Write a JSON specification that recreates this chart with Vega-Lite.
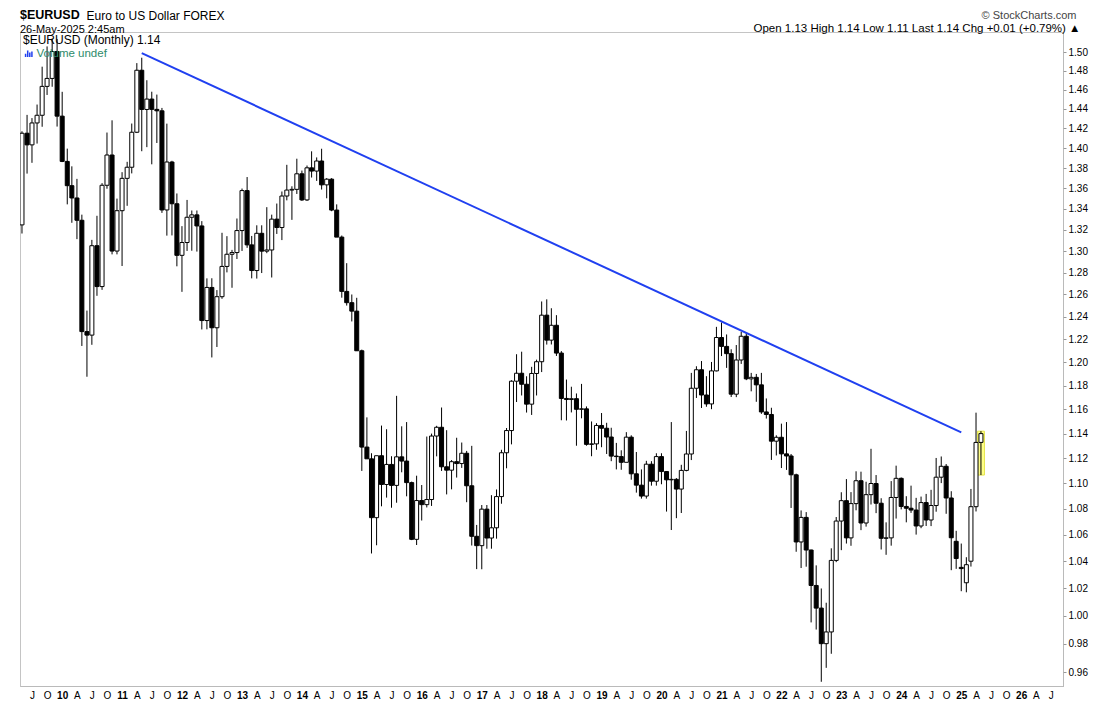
{
  "$schema": "https://vega.github.io/schema/vega-lite/v6.json",
  "width": 1043,
  "height": 654,
  "autosize": {"type": "none"},
  "padding": {"left": 20, "top": 32, "right": 45, "bottom": 22},
  "background": "white",
  "config": {
    "font": "Liberation Sans",
    "view": {"stroke": "#c4c4c4", "strokeWidth": 1},
    "axis": {"grid": false}
  },
  "title": {
    "text": "$EURUSD",
    "subtitle": "26-May-2025 2:45am",
    "anchor": "start",
    "frame": "group",
    "font": "Liberation Sans",
    "fontSize": 12.5,
    "fontWeight": "bold",
    "color": "#000000",
    "subtitleFont": "Liberation Sans",
    "subtitleFontSize": 11,
    "subtitleColor": "#000000",
    "subtitlePadding": 3,
    "offset": -26
  },
  "data": {
    "format": {"parse": {"d": "date"}},
    "values": [
      {"d": "2009-05-01", "o": 1.3247, "h": 1.4170, "l": 1.3165, "c": 1.4150},
      {"d": "2009-06-01", "o": 1.4150, "h": 1.4338, "l": 1.3745, "c": 1.4032},
      {"d": "2009-07-01", "o": 1.4032, "h": 1.4305, "l": 1.3852, "c": 1.4255},
      {"d": "2009-08-01", "o": 1.4255, "h": 1.4445, "l": 1.4045, "c": 1.4334},
      {"d": "2009-09-01", "o": 1.4334, "h": 1.4844, "l": 1.4216, "c": 1.4635},
      {"d": "2009-10-01", "o": 1.4635, "h": 1.5062, "l": 1.4545, "c": 1.4719},
      {"d": "2009-11-01", "o": 1.4719, "h": 1.5144, "l": 1.4631, "c": 1.5007},
      {"d": "2009-12-01", "o": 1.5007, "h": 1.5143, "l": 1.4218, "c": 1.4325},
      {"d": "2010-01-01", "o": 1.4325, "h": 1.4578, "l": 1.3859, "c": 1.3866},
      {"d": "2010-02-01", "o": 1.3866, "h": 1.3994, "l": 1.3444, "c": 1.3626},
      {"d": "2010-03-01", "o": 1.3626, "h": 1.3817, "l": 1.3267, "c": 1.3506},
      {"d": "2010-04-01", "o": 1.3506, "h": 1.3693, "l": 1.3112, "c": 1.3291},
      {"d": "2010-05-01", "o": 1.3291, "h": 1.3345, "l": 1.2142, "c": 1.2268},
      {"d": "2010-06-01", "o": 1.2268, "h": 1.2455, "l": 1.1876, "c": 1.2237},
      {"d": "2010-07-01", "o": 1.2237, "h": 1.3105, "l": 1.2152, "c": 1.3050},
      {"d": "2010-08-01", "o": 1.3050, "h": 1.3334, "l": 1.2588, "c": 1.2672},
      {"d": "2010-09-01", "o": 1.2672, "h": 1.3651, "l": 1.2642, "c": 1.3630},
      {"d": "2010-10-01", "o": 1.3630, "h": 1.4157, "l": 1.3596, "c": 1.3930},
      {"d": "2010-11-01", "o": 1.3930, "h": 1.4282, "l": 1.2969, "c": 1.3000},
      {"d": "2010-12-01", "o": 1.3000, "h": 1.3500, "l": 1.2969, "c": 1.3383},
      {"d": "2011-01-01", "o": 1.3383, "h": 1.3759, "l": 1.2861, "c": 1.3698},
      {"d": "2011-02-01", "o": 1.3698, "h": 1.3862, "l": 1.3430, "c": 1.3808},
      {"d": "2011-03-01", "o": 1.3808, "h": 1.4249, "l": 1.3747, "c": 1.4160},
      {"d": "2011-04-01", "o": 1.4160, "h": 1.4882, "l": 1.4152, "c": 1.4806},
      {"d": "2011-05-01", "o": 1.4806, "h": 1.4940, "l": 1.3968, "c": 1.4394},
      {"d": "2011-06-01", "o": 1.4394, "h": 1.4700, "l": 1.4009, "c": 1.4502},
      {"d": "2011-07-01", "o": 1.4502, "h": 1.4579, "l": 1.3837, "c": 1.4395},
      {"d": "2011-08-01", "o": 1.4395, "h": 1.4549, "l": 1.4051, "c": 1.4380},
      {"d": "2011-09-01", "o": 1.4380, "h": 1.4410, "l": 1.3362, "c": 1.3390},
      {"d": "2011-10-01", "o": 1.3390, "h": 1.4248, "l": 1.3145, "c": 1.3860},
      {"d": "2011-11-01", "o": 1.3860, "h": 1.3872, "l": 1.3147, "c": 1.3450},
      {"d": "2011-12-01", "o": 1.3450, "h": 1.3550, "l": 1.2858, "c": 1.2960},
      {"d": "2012-01-01", "o": 1.2960, "h": 1.3235, "l": 1.2624, "c": 1.3080},
      {"d": "2012-02-01", "o": 1.3080, "h": 1.3487, "l": 1.3001, "c": 1.3320},
      {"d": "2012-03-01", "o": 1.3320, "h": 1.3385, "l": 1.3003, "c": 1.3343},
      {"d": "2012-04-01", "o": 1.3343, "h": 1.3385, "l": 1.2995, "c": 1.3237},
      {"d": "2012-05-01", "o": 1.3237, "h": 1.3283, "l": 1.2287, "c": 1.2366},
      {"d": "2012-06-01", "o": 1.2366, "h": 1.2747, "l": 1.2288, "c": 1.2664},
      {"d": "2012-07-01", "o": 1.2664, "h": 1.2748, "l": 1.2042, "c": 1.2302},
      {"d": "2012-08-01", "o": 1.2302, "h": 1.2640, "l": 1.2133, "c": 1.2580},
      {"d": "2012-09-01", "o": 1.2580, "h": 1.3172, "l": 1.2561, "c": 1.2857},
      {"d": "2012-10-01", "o": 1.2857, "h": 1.3140, "l": 1.2802, "c": 1.2970},
      {"d": "2012-11-01", "o": 1.2970, "h": 1.3011, "l": 1.2661, "c": 1.2986},
      {"d": "2012-12-01", "o": 1.2986, "h": 1.3308, "l": 1.2926, "c": 1.3193},
      {"d": "2013-01-01", "o": 1.3193, "h": 1.3598, "l": 1.3001, "c": 1.3578},
      {"d": "2013-02-01", "o": 1.3578, "h": 1.3711, "l": 1.3030, "c": 1.3058},
      {"d": "2013-03-01", "o": 1.3058, "h": 1.3142, "l": 1.2747, "c": 1.2819},
      {"d": "2013-04-01", "o": 1.2819, "h": 1.3243, "l": 1.2745, "c": 1.3167},
      {"d": "2013-05-01", "o": 1.3167, "h": 1.3243, "l": 1.2796, "c": 1.2999},
      {"d": "2013-06-01", "o": 1.2999, "h": 1.3417, "l": 1.2980, "c": 1.3010},
      {"d": "2013-07-01", "o": 1.3010, "h": 1.3345, "l": 1.2755, "c": 1.3302},
      {"d": "2013-08-01", "o": 1.3302, "h": 1.3452, "l": 1.3161, "c": 1.3222},
      {"d": "2013-09-01", "o": 1.3222, "h": 1.3569, "l": 1.3103, "c": 1.3525},
      {"d": "2013-10-01", "o": 1.3525, "h": 1.3832, "l": 1.3483, "c": 1.3583},
      {"d": "2013-11-01", "o": 1.3583, "h": 1.3620, "l": 1.3295, "c": 1.3590},
      {"d": "2013-12-01", "o": 1.3590, "h": 1.3893, "l": 1.3545, "c": 1.3743},
      {"d": "2014-01-01", "o": 1.3743, "h": 1.3775, "l": 1.3477, "c": 1.3487},
      {"d": "2014-02-01", "o": 1.3487, "h": 1.3825, "l": 1.3477, "c": 1.3802},
      {"d": "2014-03-01", "o": 1.3802, "h": 1.3967, "l": 1.3706, "c": 1.3770},
      {"d": "2014-04-01", "o": 1.3770, "h": 1.3906, "l": 1.3673, "c": 1.3870},
      {"d": "2014-05-01", "o": 1.3870, "h": 1.3993, "l": 1.3588, "c": 1.3634},
      {"d": "2014-06-01", "o": 1.3634, "h": 1.3700, "l": 1.3503, "c": 1.3690},
      {"d": "2014-07-01", "o": 1.3690, "h": 1.3700, "l": 1.3378, "c": 1.3389},
      {"d": "2014-08-01", "o": 1.3389, "h": 1.3444, "l": 1.3133, "c": 1.3131},
      {"d": "2014-09-01", "o": 1.3131, "h": 1.3146, "l": 1.2571, "c": 1.2628},
      {"d": "2014-10-01", "o": 1.2628, "h": 1.2887, "l": 1.2500, "c": 1.2526},
      {"d": "2014-11-01", "o": 1.2526, "h": 1.2600, "l": 1.2358, "c": 1.2450},
      {"d": "2014-12-01", "o": 1.2450, "h": 1.2570, "l": 1.2100, "c": 1.2100},
      {"d": "2015-01-01", "o": 1.2100, "h": 1.2110, "l": 1.1098, "c": 1.1290},
      {"d": "2015-02-01", "o": 1.1290, "h": 1.1534, "l": 1.1261, "c": 1.1195},
      {"d": "2015-03-01", "o": 1.1195, "h": 1.1240, "l": 1.0458, "c": 1.0731},
      {"d": "2015-04-01", "o": 1.0731, "h": 1.1215, "l": 1.0520, "c": 1.1220},
      {"d": "2015-05-01", "o": 1.1220, "h": 1.1466, "l": 1.0819, "c": 1.0990},
      {"d": "2015-06-01", "o": 1.0990, "h": 1.1436, "l": 1.0887, "c": 1.1150},
      {"d": "2015-07-01", "o": 1.1150, "h": 1.1216, "l": 1.0808, "c": 1.0983},
      {"d": "2015-08-01", "o": 1.0983, "h": 1.1714, "l": 1.0847, "c": 1.1211},
      {"d": "2015-09-01", "o": 1.1211, "h": 1.1460, "l": 1.1087, "c": 1.1177},
      {"d": "2015-10-01", "o": 1.1177, "h": 1.1495, "l": 1.0897, "c": 1.1005},
      {"d": "2015-11-01", "o": 1.1005, "h": 1.1013, "l": 1.0559, "c": 1.0565},
      {"d": "2015-12-01", "o": 1.0565, "h": 1.1060, "l": 1.0522, "c": 1.0864},
      {"d": "2016-01-01", "o": 1.0864, "h": 1.0986, "l": 1.0709, "c": 1.0832},
      {"d": "2016-02-01", "o": 1.0832, "h": 1.1376, "l": 1.0810, "c": 1.0872},
      {"d": "2016-03-01", "o": 1.0872, "h": 1.1400, "l": 1.0822, "c": 1.1380},
      {"d": "2016-04-01", "o": 1.1380, "h": 1.1464, "l": 1.1215, "c": 1.1452},
      {"d": "2016-05-01", "o": 1.1452, "h": 1.1616, "l": 1.1098, "c": 1.1131},
      {"d": "2016-06-01", "o": 1.1131, "h": 1.1428, "l": 1.0912, "c": 1.1104},
      {"d": "2016-07-01", "o": 1.1104, "h": 1.1185, "l": 1.0952, "c": 1.1172},
      {"d": "2016-08-01", "o": 1.1172, "h": 1.1366, "l": 1.1045, "c": 1.1157},
      {"d": "2016-09-01", "o": 1.1157, "h": 1.1327, "l": 1.1122, "c": 1.1240},
      {"d": "2016-10-01", "o": 1.1240, "h": 1.1259, "l": 1.0851, "c": 1.0980},
      {"d": "2016-11-01", "o": 1.0980, "h": 1.1300, "l": 1.0518, "c": 1.0588},
      {"d": "2016-12-01", "o": 1.0588, "h": 1.0675, "l": 1.0341, "c": 1.0517},
      {"d": "2017-01-01", "o": 1.0517, "h": 1.0829, "l": 1.0340, "c": 1.0797},
      {"d": "2017-02-01", "o": 1.0797, "h": 1.0829, "l": 1.0494, "c": 1.0575},
      {"d": "2017-03-01", "o": 1.0575, "h": 1.0906, "l": 1.0494, "c": 1.0653},
      {"d": "2017-04-01", "o": 1.0653, "h": 1.0951, "l": 1.0570, "c": 1.0895},
      {"d": "2017-05-01", "o": 1.0895, "h": 1.1268, "l": 1.0839, "c": 1.1244},
      {"d": "2017-06-01", "o": 1.1244, "h": 1.1446, "l": 1.1119, "c": 1.1425},
      {"d": "2017-07-01", "o": 1.1425, "h": 1.1846, "l": 1.1312, "c": 1.1838},
      {"d": "2017-08-01", "o": 1.1838, "h": 1.2070, "l": 1.1662, "c": 1.1906},
      {"d": "2017-09-01", "o": 1.1906, "h": 1.2092, "l": 1.1717, "c": 1.1812},
      {"d": "2017-10-01", "o": 1.1812, "h": 1.1880, "l": 1.1574, "c": 1.1644},
      {"d": "2017-11-01", "o": 1.1644, "h": 1.1961, "l": 1.1554, "c": 1.1904},
      {"d": "2017-12-01", "o": 1.1904, "h": 1.2023, "l": 1.1717, "c": 1.2005},
      {"d": "2018-01-01", "o": 1.2005, "h": 1.2537, "l": 1.1916, "c": 1.2414},
      {"d": "2018-02-01", "o": 1.2414, "h": 1.2556, "l": 1.2154, "c": 1.2193},
      {"d": "2018-03-01", "o": 1.2193, "h": 1.2476, "l": 1.2155, "c": 1.2324},
      {"d": "2018-04-01", "o": 1.2324, "h": 1.2414, "l": 1.2055, "c": 1.2080},
      {"d": "2018-05-01", "o": 1.2080, "h": 1.2097, "l": 1.1510, "c": 1.1692},
      {"d": "2018-06-01", "o": 1.1692, "h": 1.1852, "l": 1.1508, "c": 1.1683},
      {"d": "2018-07-01", "o": 1.1683, "h": 1.1791, "l": 1.1575, "c": 1.1690},
      {"d": "2018-08-01", "o": 1.1690, "h": 1.1734, "l": 1.1301, "c": 1.1601},
      {"d": "2018-09-01", "o": 1.1601, "h": 1.1815, "l": 1.1526, "c": 1.1605},
      {"d": "2018-10-01", "o": 1.1605, "h": 1.1625, "l": 1.1301, "c": 1.1312},
      {"d": "2018-11-01", "o": 1.1312, "h": 1.1500, "l": 1.1216, "c": 1.1316},
      {"d": "2018-12-01", "o": 1.1316, "h": 1.1486, "l": 1.1268, "c": 1.1467},
      {"d": "2019-01-01", "o": 1.1467, "h": 1.1570, "l": 1.1289, "c": 1.1444},
      {"d": "2019-02-01", "o": 1.1444, "h": 1.1489, "l": 1.1234, "c": 1.1372},
      {"d": "2019-03-01", "o": 1.1372, "h": 1.1448, "l": 1.1176, "c": 1.1217},
      {"d": "2019-04-01", "o": 1.1217, "h": 1.1324, "l": 1.1110, "c": 1.1213},
      {"d": "2019-05-01", "o": 1.1213, "h": 1.1264, "l": 1.1107, "c": 1.1167},
      {"d": "2019-06-01", "o": 1.1167, "h": 1.1412, "l": 1.1180, "c": 1.1371},
      {"d": "2019-07-01", "o": 1.1371, "h": 1.1386, "l": 1.1028, "c": 1.1075},
      {"d": "2019-08-01", "o": 1.1075, "h": 1.1250, "l": 1.0926, "c": 1.0985},
      {"d": "2019-09-01", "o": 1.0985, "h": 1.1110, "l": 1.0879, "c": 1.0899},
      {"d": "2019-10-01", "o": 1.0899, "h": 1.1179, "l": 1.0879, "c": 1.1152},
      {"d": "2019-11-01", "o": 1.1152, "h": 1.1176, "l": 1.0981, "c": 1.1016},
      {"d": "2019-12-01", "o": 1.1016, "h": 1.1240, "l": 1.0981, "c": 1.1213},
      {"d": "2020-01-01", "o": 1.1213, "h": 1.1240, "l": 1.0992, "c": 1.1093},
      {"d": "2020-02-01", "o": 1.1093, "h": 1.1096, "l": 1.0778, "c": 1.1027},
      {"d": "2020-03-01", "o": 1.1027, "h": 1.1495, "l": 1.0636, "c": 1.1031},
      {"d": "2020-04-01", "o": 1.1031, "h": 1.1041, "l": 1.0727, "c": 1.0954},
      {"d": "2020-05-01", "o": 1.0954, "h": 1.1147, "l": 1.0767, "c": 1.1102},
      {"d": "2020-06-01", "o": 1.1102, "h": 1.1422, "l": 1.1095, "c": 1.1234},
      {"d": "2020-07-01", "o": 1.1234, "h": 1.1909, "l": 1.1185, "c": 1.1778},
      {"d": "2020-08-01", "o": 1.1778, "h": 1.1966, "l": 1.1696, "c": 1.1936},
      {"d": "2020-09-01", "o": 1.1936, "h": 1.2011, "l": 1.1612, "c": 1.1721},
      {"d": "2020-10-01", "o": 1.1721, "h": 1.1881, "l": 1.1622, "c": 1.1646},
      {"d": "2020-11-01", "o": 1.1646, "h": 1.2003, "l": 1.1602, "c": 1.1926},
      {"d": "2020-12-01", "o": 1.1926, "h": 1.2310, "l": 1.1922, "c": 1.2216},
      {"d": "2021-01-01", "o": 1.2216, "h": 1.2349, "l": 1.2054, "c": 1.2138},
      {"d": "2021-02-01", "o": 1.2138, "h": 1.2243, "l": 1.1952, "c": 1.2075},
      {"d": "2021-03-01", "o": 1.2075, "h": 1.2113, "l": 1.1704, "c": 1.1728},
      {"d": "2021-04-01", "o": 1.1728, "h": 1.2150, "l": 1.1703, "c": 1.2020},
      {"d": "2021-05-01", "o": 1.2020, "h": 1.2266, "l": 1.1986, "c": 1.2227},
      {"d": "2021-06-01", "o": 1.2227, "h": 1.2254, "l": 1.1847, "c": 1.1858},
      {"d": "2021-07-01", "o": 1.1858, "h": 1.1909, "l": 1.1752, "c": 1.1871},
      {"d": "2021-08-01", "o": 1.1871, "h": 1.1900, "l": 1.1664, "c": 1.1807},
      {"d": "2021-09-01", "o": 1.1807, "h": 1.1909, "l": 1.1563, "c": 1.1579},
      {"d": "2021-10-01", "o": 1.1579, "h": 1.1692, "l": 1.1524, "c": 1.1558},
      {"d": "2021-11-01", "o": 1.1558, "h": 1.1614, "l": 1.1186, "c": 1.1338},
      {"d": "2021-12-01", "o": 1.1338, "h": 1.1386, "l": 1.1222, "c": 1.1370},
      {"d": "2022-01-01", "o": 1.1370, "h": 1.1482, "l": 1.1121, "c": 1.1235},
      {"d": "2022-02-01", "o": 1.1235, "h": 1.1495, "l": 1.1106, "c": 1.1218},
      {"d": "2022-03-01", "o": 1.1218, "h": 1.1234, "l": 1.0806, "c": 1.1067},
      {"d": "2022-04-01", "o": 1.1067, "h": 1.1076, "l": 1.0471, "c": 1.0545},
      {"d": "2022-05-01", "o": 1.0545, "h": 1.0787, "l": 1.0349, "c": 1.0733},
      {"d": "2022-06-01", "o": 1.0733, "h": 1.0774, "l": 1.0359, "c": 1.0484},
      {"d": "2022-07-01", "o": 1.0484, "h": 1.0487, "l": 0.9952, "c": 1.0220},
      {"d": "2022-08-01", "o": 1.0220, "h": 1.0369, "l": 0.9901, "c": 1.0055},
      {"d": "2022-09-01", "o": 1.0055, "h": 1.0198, "l": 0.9536, "c": 0.9801},
      {"d": "2022-10-01", "o": 0.9801, "h": 1.0094, "l": 0.9632, "c": 0.9884},
      {"d": "2022-11-01", "o": 0.9884, "h": 1.0497, "l": 0.9730, "c": 1.0406},
      {"d": "2022-12-01", "o": 1.0406, "h": 1.0736, "l": 1.0393, "c": 1.0705},
      {"d": "2023-01-01", "o": 1.0705, "h": 1.0929, "l": 1.0483, "c": 1.0863},
      {"d": "2023-02-01", "o": 1.0863, "h": 1.1033, "l": 1.0533, "c": 1.0576},
      {"d": "2023-03-01", "o": 1.0576, "h": 1.0930, "l": 1.0516, "c": 1.0840},
      {"d": "2023-04-01", "o": 1.0840, "h": 1.1095, "l": 1.0788, "c": 1.1020},
      {"d": "2023-05-01", "o": 1.1020, "h": 1.1092, "l": 1.0635, "c": 1.0690},
      {"d": "2023-06-01", "o": 1.0690, "h": 1.1012, "l": 1.0662, "c": 1.0910},
      {"d": "2023-07-01", "o": 1.0910, "h": 1.1276, "l": 1.0833, "c": 1.0998},
      {"d": "2023-08-01", "o": 1.0998, "h": 1.1065, "l": 1.0766, "c": 1.0843},
      {"d": "2023-09-01", "o": 1.0843, "h": 1.0882, "l": 1.0488, "c": 1.0573},
      {"d": "2023-10-01", "o": 1.0573, "h": 1.0695, "l": 1.0448, "c": 1.0576},
      {"d": "2023-11-01", "o": 1.0576, "h": 1.1017, "l": 1.0517, "c": 1.0888},
      {"d": "2023-12-01", "o": 1.0888, "h": 1.1140, "l": 1.0724, "c": 1.1039},
      {"d": "2024-01-01", "o": 1.1039, "h": 1.1046, "l": 1.0795, "c": 1.0818},
      {"d": "2024-02-01", "o": 1.0818, "h": 1.0898, "l": 1.0695, "c": 1.0804},
      {"d": "2024-03-01", "o": 1.0804, "h": 1.0981, "l": 1.0768, "c": 1.0790},
      {"d": "2024-04-01", "o": 1.0790, "h": 1.0885, "l": 1.0601, "c": 1.0667},
      {"d": "2024-05-01", "o": 1.0667, "h": 1.0895, "l": 1.0650, "c": 1.0848},
      {"d": "2024-06-01", "o": 1.0848, "h": 1.0916, "l": 1.0667, "c": 1.0713},
      {"d": "2024-07-01", "o": 1.0713, "h": 1.0948, "l": 1.0666, "c": 1.0825},
      {"d": "2024-08-01", "o": 1.0825, "h": 1.1202, "l": 1.0777, "c": 1.1048},
      {"d": "2024-09-01", "o": 1.1048, "h": 1.1214, "l": 1.1001, "c": 1.1135},
      {"d": "2024-10-01", "o": 1.1135, "h": 1.1153, "l": 1.0761, "c": 1.0884},
      {"d": "2024-11-01", "o": 1.0884, "h": 1.0937, "l": 1.0333, "c": 1.0577},
      {"d": "2024-12-01", "o": 1.0550, "h": 1.0630, "l": 1.0343, "c": 1.0420},
      {"d": "2025-01-01", "o": 1.0354, "h": 1.0533, "l": 1.0178, "c": 1.0345},
      {"d": "2025-02-01", "o": 1.0240, "h": 1.0430, "l": 1.0170, "c": 1.0374},
      {"d": "2025-03-01", "o": 1.0400, "h": 1.0955, "l": 1.0360, "c": 1.0816},
      {"d": "2025-04-01", "o": 1.0816, "h": 1.1573, "l": 1.0779, "c": 1.1328},
      {"d": "2025-05-01", "o": 1.1328, "h": 1.1420, "l": 1.1065, "c": 1.1400}
    ]
  },
  "layer": [
    {
      "transform": [{"filter": "utcyear(datum.d) == 2025 && utcmonth(datum.d) == 4"}],
      "mark": {"type": "bar", "size": 7, "fill": "#ffff88", "stroke": "#e4e44c", "strokeWidth": 1, "clip": true},
      "encoding": {
        "x": {"field": "d", "type": "temporal", "axis": null,
              "scale": {"type": "utc", "padding": 0, "domain": [{"year": 2009, "month": 4, "date": 19, "utc": true}, {"year": 2026, "month": 9, "date": 13, "utc": true}]}},
        "y": {"field": "l", "type": "quantitative", "axis": null,
              "scale": {"type": "log", "domain": [0.9507, 1.5219], "nice": false, "zero": false}},
        "y2": {"field": "h"}
      }
    },
    {
      "mark": {"type": "rule", "color": "#000000", "strokeWidth": 1, "clip": true},
      "encoding": {
        "x": {"field": "d", "type": "temporal", "axis": null},
        "y": {"field": "l", "type": "quantitative", "axis": null},
        "y2": {"field": "h"}
      }
    },
    {
      "mark": {"type": "bar", "size": 4, "stroke": "#000000", "strokeWidth": 1, "clip": true},
      "encoding": {
        "x": {"field": "d", "type": "temporal",
              "scale": {"type": "utc", "padding": 0, "domain": [{"year": 2009, "month": 4, "date": 19, "utc": true}, {"year": 2026, "month": 9, "date": 13, "utc": true}]},
              "axis": {
                "orient": "bottom", "title": null,
                "tickCount": {"interval": "month", "step": 3},
                "labelExpr": "utcmonth(datum.value) == 0 ? utcFormat(datum.value, '%y') : utcmonth(datum.value) == 3 ? 'A' : utcmonth(datum.value) == 6 ? 'J' : 'O'",
                "labelFontWeight": {"condition": {"test": "utcmonth(datum.value) == 0", "value": "bold"}, "value": "normal"},
                "labelFontSize": 10, "labelColor": "#000000", "labelPadding": 4,
                "ticks": false, "domainColor": "#b0b0b0", "domainDash": [1, 1],
                "labelOverlap": false, "labelFlush": false
              }},
        "y": {"field": "o", "type": "quantitative",
              "axis": {
                "orient": "right",
                "title": "Open 1.13  High 1.14  Low 1.11  Last 1.14  Chg +0.01 (+0.79%) ▲",
                "titleAngle": 0, "titleX": 17, "titleY": -1, "titleAlign": "right", "titleBaseline": "alphabetic",
                "titleFontSize": 11.5, "titleFontWeight": "normal", "titleColor": "#000000",
                "values": [0.96, 0.98, 1.0, 1.02, 1.04, 1.06, 1.08, 1.1, 1.12, 1.14, 1.16, 1.18, 1.2, 1.22, 1.24, 1.26, 1.28, 1.3, 1.32, 1.34, 1.36, 1.38, 1.4, 1.42, 1.44, 1.46, 1.48, 1.5],
                "format": ".2f", "labelFontSize": 10, "labelColor": "#000000",
                "tickSize": 3, "tickColor": "#999999", "labelPadding": 2,
                "domainColor": "#b0b0b0", "domainDash": [1, 1], "labelOverlap": false
              }},
        "y2": {"field": "c"},
        "fill": {"condition": {"test": "datum.c < datum.o", "value": "#000000"}, "value": "#ffffff"}
      }
    },
    {
      "data": {
        "format": {"parse": {"d": "date"}},
        "values": [
          {"d": "2011-05-01", "v": 1.499},
          {"d": "2025-01-01", "v": 1.141}
        ]
      },
      "mark": {"type": "line", "strokeWidth": 2, "clip": true},
      "encoding": {
        "x": {"field": "d", "type": "temporal",
              "axis": {"orient": "top", "title": "Euro to US Dollar  FOREX", "labels": false, "ticks": false, "domain": false,
                       "titleX": 66, "titleY": -13, "titleAlign": "left", "titleBaseline": "alphabetic",
                       "titleFontSize": 12, "titleFontWeight": "normal", "titleColor": "#000000"}},
        "y": {"field": "v", "type": "quantitative",
              "axis": {"orient": "left", "title": "© StockCharts.com", "labels": false, "ticks": false, "domain": false,
                       "titleAngle": 0, "titleX": 1056, "titleY": -14, "titleAlign": "right", "titleBaseline": "alphabetic",
                       "titleFontSize": 11, "titleFontWeight": "normal", "titleColor": "#444444"}},
        "stroke": {"datum": "Volume undef", "type": "nominal", "scale": {"range": ["#2040f0"]},
                   "legend": {"orient": "top-left", "offset": 3, "padding": 0,
                              "title": "\u00a0\u00a0\u00a0$EURUSD (Monthly) 1.14", "titleFontSize": 12, "titleFontWeight": "normal", "titleColor": "#000000", "titlePadding": 1,
                              "labelFontSize": 11.5, "labelColor": "#2e8b6b", "labelOffset": 2,
                              "symbolType": "M-1,1V0M-0.33,1V-1M0.33,1V-0.4M1,1V-0.7", "symbolSize": 40, "symbolStrokeWidth": 1.5}}
      }
    }
  ]
}
